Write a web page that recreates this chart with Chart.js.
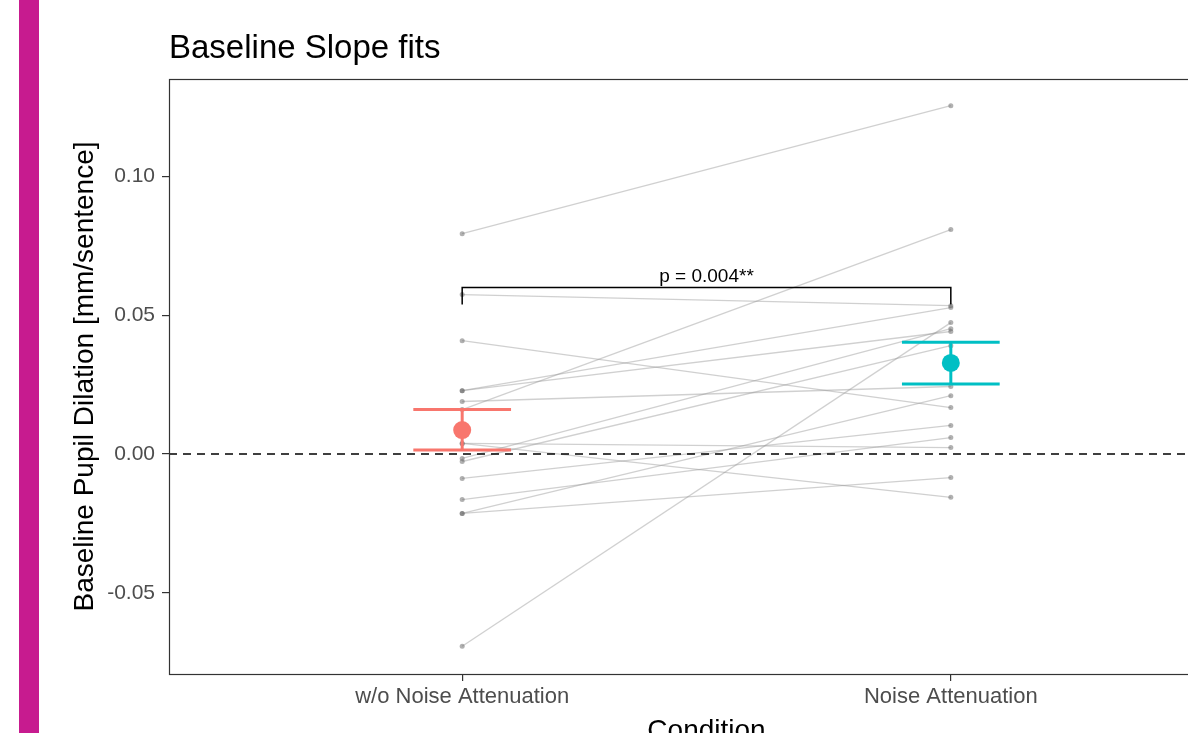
<!DOCTYPE html>
<html>
<head>
<meta charset="utf-8">
<script src="https://cdn.jsdelivr.net/npm/chart.js@4.4.1/dist/chart.umd.min.js"></script>
<style>
  body { margin: 0; background: #fff; }
  #wrap { width: 1188px; height: 733px; overflow: hidden; position: relative; }
</style>
</head>
<body>
<div id="wrap"><canvas id="c" width="1300" height="760"></canvas></div>
<script>
// conditions on the x axis
var categories = ['w/o Noise Attenuation', 'Noise Attenuation'];

// one value per participant, same order in both arrays
var subjWithout = [0.0793, -0.0692, 0.0574, 0.0408, 0.0228, 0.0228, 0.0189, 0.0160, 0.0038, 0.0038, -0.0016, -0.0027, -0.0088, -0.0164, -0.0214, -0.0214];
var subjWith    = [0.1254,  0.0473, 0.0534, 0.0167, 0.0527, 0.0441, 0.0243, 0.0808, -0.0156, 0.0023, 0.0451, 0.0390, 0.0103, 0.0059, 0.0210, -0.0085];

// group mean and error bar
var groupMean = [0.0086, 0.0328];
var groupLow  = [0.0014, 0.0252];
var groupHigh = [0.0160, 0.0402];
var groupColors = ['#F8766D', '#00BFC4'];

var yTicks = [-0.05, 0, 0.05, 0.10];
var bracketY = [0.0538, 0.0599];
var pLabel = 'p = 0.004**';

Chart.defaults.font.family = '"Liberation Sans", Arial, sans-serif';

var datasets = [];

// means + error bars (on top)
groupMean.forEach(function(m, i) {
  var x = i + 1;
  var col = groupColors[i];
  datasets.push({ data: [{x: x, y: m}], pointRadius: 9, pointBackgroundColor: col, pointBorderWidth: 0, showLine: false, order: 0 });
  datasets.push({ data: [{x: x, y: groupLow[i]}, {x: x, y: groupHigh[i]}], borderColor: col, borderWidth: 3, pointRadius: 0, showLine: true, order: 1 });
  datasets.push({ data: [{x: x - 0.1, y: groupHigh[i]}, {x: x + 0.1, y: groupHigh[i]}], borderColor: col, borderWidth: 3, pointRadius: 0, showLine: true, order: 1 });
  datasets.push({ data: [{x: x - 0.1, y: groupLow[i]}, {x: x + 0.1, y: groupLow[i]}], borderColor: col, borderWidth: 3, pointRadius: 0, showLine: true, order: 1 });
});

// significance bracket
datasets.push({
  data: [{x: 1, y: bracketY[0]}, {x: 1, y: bracketY[1]}, {x: 2, y: bracketY[1]}, {x: 2, y: bracketY[0]}],
  borderColor: '#000', borderWidth: 1.5, pointRadius: 0, showLine: true, order: 2
});

// dashed zero line
datasets.push({
  data: [{x: 0.4, y: 0}, {x: 2.6, y: 0}],
  borderColor: '#000', borderWidth: 1.5, borderDash: [8, 6], pointRadius: 0, showLine: true, order: 3
});

// individual participants
subjWithout.forEach(function(v, i) {
  datasets.push({
    data: [{x: 1, y: v}, {x: 2, y: subjWith[i]}],
    borderColor: 'rgba(150,150,150,0.45)', borderWidth: 1.3,
    pointRadius: 2.5, pointBackgroundColor: 'rgba(100,100,100,0.5)', pointBorderWidth: 0,
    showLine: true, order: 4
  });
});

var chromePlugin = {
  id: 'chrome',
  beforeDraw: function(chart) {
    var ctx = chart.ctx;
    ctx.save();
    ctx.fillStyle = '#C71B8F';
    ctx.fillRect(19, 0, 20, chart.height);
    ctx.restore();
  },
  afterDraw: function(chart) {
    var ctx = chart.ctx, a = chart.chartArea;
    var xs = chart.scales.x, ys = chart.scales.y;
    ctx.save();
    ctx.strokeStyle = '#333';
    ctx.lineWidth = 1.2;
    ctx.strokeRect(a.left + 0.5, a.top + 0.5, a.right - a.left, a.bottom - a.top);
    ctx.fillStyle = '#000';
    ctx.font = '33px "Liberation Sans", Arial, sans-serif';
    ctx.textBaseline = 'alphabetic';
    ctx.textAlign = 'left';
    ctx.fillText('Baseline Slope fits', a.left, 58);
    ctx.font = '19px "Liberation Sans", Arial, sans-serif';
    ctx.textAlign = 'center';
    ctx.fillText(pLabel, xs.getPixelForValue(1.5), ys.getPixelForValue(bracketY[1]) - 6);
    ctx.restore();
  }
};

new Chart(document.getElementById('c'), {
  type: 'scatter',
  data: { datasets: datasets },
  plugins: [chromePlugin],
  options: {
    responsive: false,
    animation: false,
    layout: { padding: { top: 79, right: 56, left: 0, bottom: 0 } },
    plugins: { legend: { display: false }, tooltip: { enabled: false } },
    scales: {
      x: {
        type: 'linear', min: 0.4, max: 2.6,
        afterBuildTicks: function(s) { s.ticks = [{value: 1}, {value: 2}]; },
        afterFit: function(s) { s.height = 86; },
        grid: { drawOnChartArea: false, tickLength: 7, color: '#333', lineWidth: 1.2 },
        border: { display: false },
        ticks: { color: '#4D4D4D', font: { size: 22 }, padding: 3, maxRotation: 0,
          callback: function(v) { return categories[v - 1]; } },
        title: { display: true, text: 'Condition', color: '#000', font: { size: 28 }, padding: { bottom: 12 } }
      },
      y: {
        type: 'linear', min: -0.0792, max: 0.1350,
        afterBuildTicks: function(s) { s.ticks = yTicks.map(function(v) { return {value: v}; }); },
        afterFit: function(s) { s.width = 169; },
        grid: { drawOnChartArea: false, tickLength: 7, color: '#333', lineWidth: 1.2 },
        border: { display: false },
        ticks: { color: '#4D4D4D', font: { size: 21 }, padding: 7,
          callback: function(v) { return Number(v).toFixed(2); } },
        title: { display: true, text: 'Baseline Pupil Dilation [mm/sentence]', color: '#000', font: { size: 28 }, padding: { top: 68 } }
      }
    }
  }
});
</script>
</body>
</html>
